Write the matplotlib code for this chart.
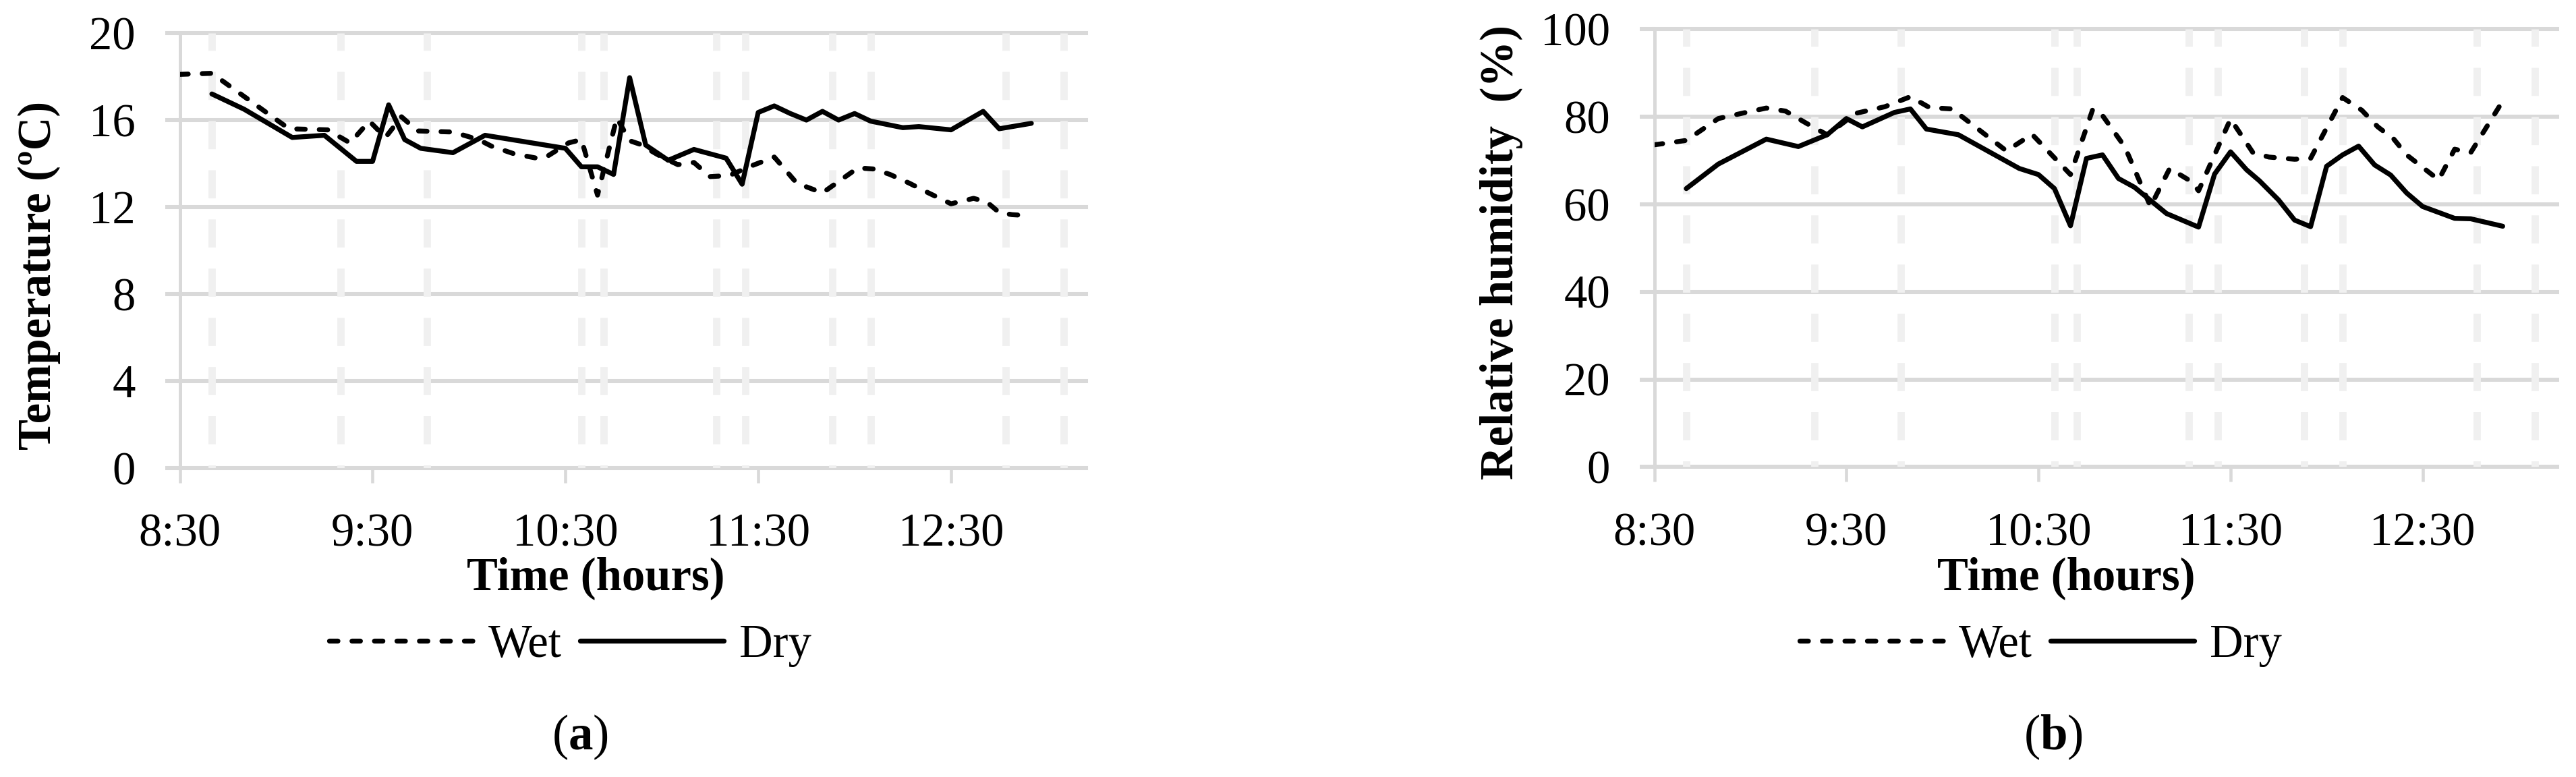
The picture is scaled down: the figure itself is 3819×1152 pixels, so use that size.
import matplotlib.pyplot as plt
from matplotlib.lines import Line2D

plt.rcParams['font.family'] = ['Liberation Serif', 'DejaVu Serif']
plt.rcParams['lines.scale_dashes'] = False
plt.rcParams['mathtext.fontset'] = 'custom'
plt.rcParams['mathtext.rm'] = 'Liberation Serif'
plt.rcParams['mathtext.bf'] = 'Liberation Serif:bold'

# time axis, in minutes after 8:30
tick_min = [0, 60, 120, 180, 240]
tick_labels = ['8:30', '9:30', '10:30', '11:30', '12:30']
marker_min = [10, 50, 77, 125, 132, 167, 176, 203, 215, 257, 275]

# (a) temperature
temp_wet_min = [0, 10, 34, 46, 53, 59, 64, 69, 74, 85, 93, 97, 104, 111, 114, 121,
                125, 130, 136, 140, 143, 150, 155, 160, 165, 171, 178, 185, 192,
                200, 211, 216, 221, 227, 233, 240, 247, 251, 255, 259, 265]
temp_wet = [18.1, 18.15, 15.6, 15.55, 14.95, 15.95, 15.2, 16.15, 15.5, 15.45, 15.1,
            14.8, 14.45, 14.25, 14.3, 14.95, 15.1, 12.55, 16.1, 15.05, 14.9, 14.3,
            13.95, 14.05, 13.4, 13.45, 13.9, 14.3, 13.1, 12.65, 13.8, 13.75, 13.5,
            13.1, 12.65, 12.15, 12.4, 12.25, 11.75, 11.65, 11.6]
temp_dry_min = [10, 20, 35, 45, 55, 60, 65, 70, 75, 85, 95, 120, 125, 130, 135, 140,
                145, 152, 160, 170, 175, 180, 185, 190, 195, 200, 205, 210, 215, 225,
                230, 240, 250, 255, 265]
temp_dry = [17.2, 16.5, 15.2, 15.3, 14.1, 14.1, 16.7, 15.1, 14.7, 14.5, 15.3, 14.7,
            13.85, 13.85, 13.5, 17.95, 14.85, 14.15, 14.65, 14.25, 13.05, 16.35, 16.65,
            16.3, 16.0, 16.4, 16.0, 16.3, 15.95, 15.65, 15.7, 15.55, 16.4, 15.6, 15.85]

# (b) relative humidity
rh_wet_min = [0, 10, 20, 28, 35, 41, 49, 54, 63, 72, 80, 86, 93, 110, 118, 130, 137,
              140, 147, 155, 161, 168, 170, 180, 187, 192, 200, 205, 215, 221, 226,
              231, 235, 245, 250, 255, 265]
rh_wet = [73.6, 74.6, 79.6, 80.9, 82.0, 81.3, 77.9, 75.9, 80.8, 82.3, 84.6, 82.1, 81.8,
          72.2, 76.0, 66.8, 81.8, 80.3, 73.1, 59.5, 68.2, 65.1, 63.1, 79.5, 71.8, 70.8,
          70.3, 70.5, 84.4, 81.5, 77.7, 74.9, 71.3, 65.6, 72.6, 71.8, 83.6]
rh_dry_min = [10, 20, 35, 45, 54, 60, 65, 75, 80, 85, 95, 114, 120, 125, 130, 135, 140,
              145, 150, 160, 170, 175, 180, 185, 189, 195, 200, 205, 210, 215, 220, 225,
              230, 235, 240, 250, 255, 265]
rh_dry = [63.6, 69.2, 74.9, 73.2, 75.9, 79.6, 77.7, 81.0, 81.8, 77.2, 75.9, 68.2, 66.8,
          63.6, 55.1, 70.5, 71.3, 65.9, 63.9, 57.9, 54.8, 66.9, 72.0, 67.9, 65.4, 61.0,
          56.4, 54.9, 68.7, 71.3, 73.3, 69.0, 66.7, 62.6, 59.5, 56.8, 56.7, 55.0]

W, H, DPI = 3819, 1152, 300
GRID = '#d9d9d9'
MARK = '#f0f0f0'
FS = 16.5
LW = 1.75
WET_STYLE = dict(color='black', lw=LW, linestyle=(0, (3.0, 5.0)),
                 dash_capstyle='round', solid_joinstyle='round')
DRY_STYLE = dict(color='black', lw=LW, linestyle='-',
                 solid_capstyle='round', solid_joinstyle='round')


def px_axes(fig, x0, x1, ytop, ybot):
    return fig.add_axes([x0 / W, 1 - ybot / H, (x1 - x0) / W, (ybot - ytop) / H])


def panel(fig, box, ymax, ystep, wet_t, wet, dry_t, dry, ylabel, ylab_xy,
          xlab_x, leg_x, letter_x, letter):
    ax = px_axes(fig, *box)
    ax.set_xlim(0, 282)
    ax.set_ylim(0, ymax)

    # light dashed vertical markers
    for m in marker_min:
        ax.plot([m, m], [ymax, 0], color=MARK, lw=2.6,
                linestyle=(3.8, (10.0, 7.5)), zorder=1)

    ax.plot(wet_t, wet, zorder=3, **WET_STYLE)
    ax.plot(dry_t, dry, zorder=3, **DRY_STYLE)

    ax.set_yticks(range(0, ymax + 1, ystep))
    ax.set_xticks(tick_min)
    ax.set_xticklabels(tick_labels)
    ax.grid(axis='y', color=GRID, lw=1.45, zorder=0)
    ax.set_axisbelow(True)
    for gl in ax.get_ygridlines():
        gl.set_clip_on(False)
    for s in ['top', 'right', 'bottom']:
        ax.spines[s].set_visible(False)
    ax.spines['left'].set_color(GRID)
    ax.spines['left'].set_linewidth(1.2)
    ax.tick_params(axis='y', length=5.2, width=1.45, color=GRID,
                   labelsize=FS, pad=10.5)
    ax.tick_params(axis='x', length=5.2, width=1.1, color=GRID,
                   labelsize=FS, pad=11)

    fig.text(ylab_xy[0] / W, 1 - ylab_xy[1] / H, ylabel, rotation=90,
             ha='center', va='center', fontsize=FS, fontweight='bold')
    fig.text(xlab_x / W, 1 - 857 / H, 'Time (hours)', ha='center',
             va='center', fontsize=FS, fontweight='bold')

    handles = [Line2D([], [], **WET_STYLE), Line2D([], [], **DRY_STYLE)]
    fig.legend(handles, ['Wet', 'Dry'], loc='center', ncol=2,
               bbox_to_anchor=(leg_x / W, 1 - 957 / H), frameon=False,
               prop={'family': 'Liberation Serif', 'size': FS},
               handlelength=3.1, handletextpad=0.33,
               columnspacing=0.4, borderpad=0)
    fig.text(letter_x / W, 1 - 1093 / H, r'($\mathbf{' + letter + '}$)',
             ha='center', va='center', fontsize=FS + 1)
    return ax


fig = plt.figure(figsize=(W / DPI, H / DPI), dpi=DPI)

panel(fig, (266.5, 1610, 49, 694), 20, 4, temp_wet_min, temp_wet,
      temp_dry_min, temp_dry, 'Temperature (ºC)', (58, 408), 883, 845, 860, 'a')
panel(fig, (2452.5, 3791, 43.4, 692.3), 100, 20, rh_wet_min, rh_wet,
      rh_dry_min, rh_dry, 'Relative humidity  (%)', (2226, 374), 3063, 3025,
      3044, 'b')

fig.savefig('out.png', dpi=DPI)
